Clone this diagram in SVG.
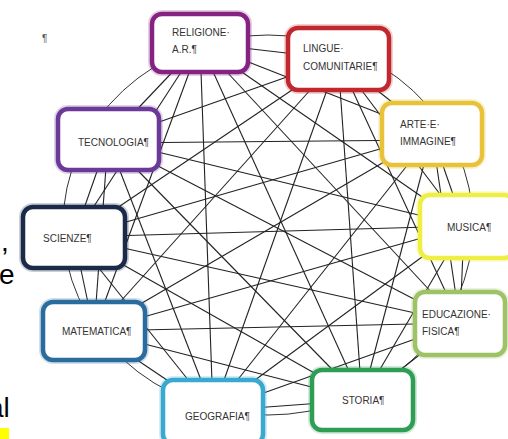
<svg xmlns="http://www.w3.org/2000/svg" width="508" height="439" viewBox="0 0 508 439">
<style>
.bg{fill:#ffffff}
.edge{stroke:#222;stroke-width:1.1;fill:none}
.ring{stroke:#333;stroke-width:1;fill:none}
.halo{fill:none;stroke-width:8;stroke-opacity:0.22}
.box{fill:#ffffff;stroke-width:4.5}
.lbl{font-family:"Liberation Sans",Arial,sans-serif;font-size:10px;fill:#333}
.doc{font-family:"Liberation Sans",Arial,sans-serif;font-size:28px;fill:#000}
</style>
<rect class="bg" x="0" y="0" width="508" height="439"/>
<text x="42" y="42" font-family="Liberation Sans, sans-serif" font-size="10" fill="#555">¶</text>
<rect x="0" y="428" width="9" height="11" fill="#ffff00"/>
<text class="doc" x="1" y="251">,</text>
<text class="doc" x="-1" y="284">e</text>
<text class="doc" x="-12" y="417">al</text>
<g id="connectors">
<ellipse class="ring" cx="268" cy="225" rx="205" ry="190"/>
<line class="edge" x1="200" y1="43" x2="338" y2="59"/>
<line class="edge" x1="200" y1="43" x2="432" y2="134"/>
<line class="edge" x1="200" y1="43" x2="464" y2="226"/>
<line class="edge" x1="200" y1="43" x2="460" y2="323"/>
<line class="edge" x1="200" y1="43" x2="362" y2="400"/>
<line class="edge" x1="200" y1="43" x2="213" y2="411"/>
<line class="edge" x1="200" y1="43" x2="94" y2="331"/>
<line class="edge" x1="200" y1="43" x2="74" y2="237"/>
<line class="edge" x1="200" y1="43" x2="108" y2="140"/>
<line class="edge" x1="338" y1="59" x2="432" y2="134"/>
<line class="edge" x1="338" y1="59" x2="464" y2="226"/>
<line class="edge" x1="338" y1="59" x2="460" y2="323"/>
<line class="edge" x1="338" y1="59" x2="362" y2="400"/>
<line class="edge" x1="338" y1="59" x2="213" y2="411"/>
<line class="edge" x1="338" y1="59" x2="94" y2="331"/>
<line class="edge" x1="338" y1="59" x2="74" y2="237"/>
<line class="edge" x1="338" y1="59" x2="108" y2="140"/>
<line class="edge" x1="432" y1="134" x2="464" y2="226"/>
<line class="edge" x1="432" y1="134" x2="460" y2="323"/>
<line class="edge" x1="432" y1="134" x2="362" y2="400"/>
<line class="edge" x1="432" y1="134" x2="213" y2="411"/>
<line class="edge" x1="432" y1="134" x2="94" y2="331"/>
<line class="edge" x1="432" y1="134" x2="74" y2="237"/>
<line class="edge" x1="432" y1="140" x2="108" y2="143"/>
<line class="edge" x1="464" y1="226" x2="460" y2="323"/>
<line class="edge" x1="464" y1="226" x2="362" y2="400"/>
<line class="edge" x1="464" y1="226" x2="213" y2="411"/>
<line class="edge" x1="464" y1="226" x2="94" y2="331"/>
<line class="edge" x1="464" y1="226" x2="74" y2="237"/>
<line class="edge" x1="464" y1="226" x2="108" y2="140"/>
<line class="edge" x1="460" y1="323" x2="362" y2="400"/>
<line class="edge" x1="460" y1="323" x2="213" y2="411"/>
<line class="edge" x1="460" y1="323" x2="94" y2="331"/>
<line class="edge" x1="460" y1="323" x2="74" y2="237"/>
<line class="edge" x1="460" y1="323" x2="108" y2="140"/>
<line class="edge" x1="362" y1="400" x2="213" y2="411"/>
<line class="edge" x1="362" y1="400" x2="94" y2="331"/>
<line class="edge" x1="362" y1="400" x2="74" y2="237"/>
<line class="edge" x1="362" y1="400" x2="108" y2="140"/>
<line class="edge" x1="213" y1="411" x2="94" y2="331"/>
<line class="edge" x1="213" y1="411" x2="74" y2="237"/>
<line class="edge" x1="213" y1="411" x2="108" y2="140"/>
<line class="edge" x1="94" y1="331" x2="74" y2="237"/>
<line class="edge" x1="94" y1="331" x2="108" y2="140"/>
<line class="edge" x1="74" y1="237" x2="108" y2="140"/>
</g>
<g id="religione">
<rect class="halo" x="152" y="14" width="96" height="58" rx="10" stroke="#862382"/>
<rect class="box" x="152" y="14" width="96" height="58" rx="10" stroke="#862382"/>
<text class="lbl" x="172" y="36">RELIGIONE·</text>
<text class="lbl" x="172" y="53">A.R.¶</text>
</g>
<g id="lingue">
<rect class="halo" x="288" y="28" width="101" height="62" rx="10" stroke="#c0282d"/>
<rect class="box" x="288" y="28" width="101" height="62" rx="10" stroke="#c0282d"/>
<text class="lbl" x="303" y="52">LINGUE·</text>
<text class="lbl" x="303" y="70">COMUNITARIE¶</text>
</g>
<g id="arte">
<rect class="halo" x="382" y="103" width="100" height="62" rx="10" stroke="#e8c33a"/>
<rect class="box" x="382" y="103" width="100" height="62" rx="10" stroke="#e8c33a"/>
<text class="lbl" x="400" y="128">ARTE·E·</text>
<text class="lbl" x="400" y="145">IMMAGINE¶</text>
</g>
<g id="musica">
<rect class="halo" x="420" y="195" width="94" height="63" rx="10" stroke="#eeee44"/>
<rect class="box" x="420" y="195" width="94" height="63" rx="10" stroke="#eeee44"/>
<text class="lbl" x="447" y="231">MUSICA¶</text>
</g>
<g id="educazione-fisica">
<rect class="halo" x="415" y="292" width="90" height="63" rx="10" stroke="#9dc366"/>
<rect class="box" x="415" y="292" width="90" height="63" rx="10" stroke="#9dc366"/>
<text class="lbl" x="422" y="318">EDUCAZIONE·</text>
<text class="lbl" x="422" y="335">FISICA¶</text>
</g>
<g id="storia">
<rect class="halo" x="312" y="370" width="101" height="60" rx="10" stroke="#2e9e55"/>
<rect class="box" x="312" y="370" width="101" height="60" rx="10" stroke="#2e9e55"/>
<text class="lbl" x="342" y="404">STORIA¶</text>
</g>
<g id="geografia">
<rect class="halo" x="163" y="380" width="100" height="64" rx="10" stroke="#3aa9d0"/>
<rect class="box" x="163" y="380" width="100" height="64" rx="10" stroke="#3aa9d0"/>
<text class="lbl" x="185" y="420">GEOGRAFIA¶</text>
</g>
<g id="matematica">
<rect class="halo" x="43" y="302" width="102" height="58" rx="10" stroke="#2b6c9e"/>
<rect class="box" x="43" y="302" width="102" height="58" rx="10" stroke="#2b6c9e"/>
<text class="lbl" x="62" y="335">MATEMATICA¶</text>
</g>
<g id="scienze">
<rect class="halo" x="23" y="207" width="102" height="61" rx="10" stroke="#1b2a48"/>
<rect class="box" x="23" y="207" width="102" height="61" rx="10" stroke="#1b2a48"/>
<text class="lbl" x="43" y="242">SCIENZE¶</text>
</g>
<g id="tecnologia">
<rect class="halo" x="58" y="109" width="101" height="61" rx="10" stroke="#6b3a98"/>
<rect class="box" x="58" y="109" width="101" height="61" rx="10" stroke="#6b3a98"/>
<text class="lbl" x="78" y="146">TECNOLOGIA¶</text>
</g>
</svg>
